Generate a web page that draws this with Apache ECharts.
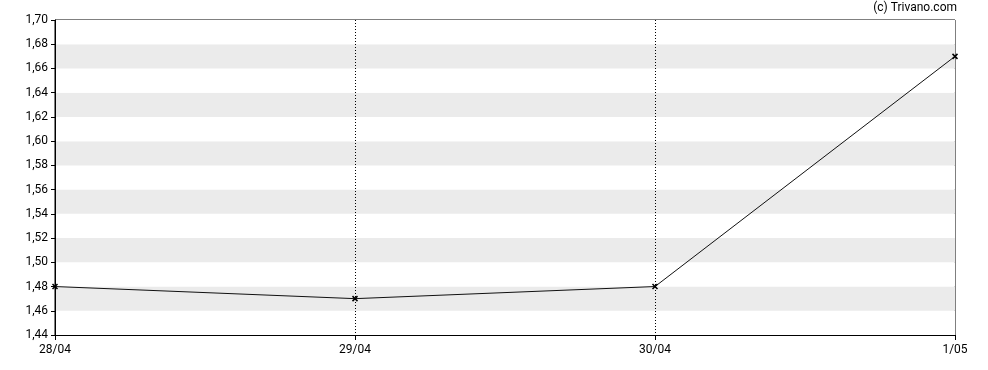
<!DOCTYPE html>
<html>
<head>
<meta charset="utf-8">
<script src="https://cdn.jsdelivr.net/npm/echarts@6/dist/echarts.min.js"></script>
<style>html,body{margin:0;padding:0;background:#fff}#c{width:988px;height:370px}</style>
</head>
<body>
<div id="c"></div>
<script>
const categories = ['28/04', '29/04', '30/04', '1/05'];
const prices = [1.48, 1.47, 1.48, 1.67];
const yMin = 1.44, yMax = 1.70, yStep = 0.02;
const credit = '(c) Trivano.com';

const chart = echarts.init(document.getElementById('c'), null, {renderer: 'canvas'});
const font = 'Roboto';
chart.setOption({
  animation: false,
  backgroundColor: '#ffffff',
  graphic: [{
    type: 'text', right: 31, top: 2, z: 100,
    style: {text: credit, font: '12px Roboto', fill: '#000', textAlign: 'right'}
  }],
  grid: {left: 55, right: 33, top: 20, bottom: 35, show: true, borderColor: '#000', borderWidth: 1, backgroundColor: 'transparent'},
  xAxis: {
    type: 'category', data: categories, boundaryGap: false,
    axisLine: {lineStyle: {color: '#000', width: 1}},
    axisTick: {show: true, length: 5, lineStyle: {color: '#000'}},
    axisLabel: {color: '#000', fontFamily: font, fontSize: 12, margin: 9},
    splitLine: {show: true, interval: (i) => i > 0 && i < categories.length - 1,
      lineStyle: {type: [1, 2], color: '#000', width: 1}}
  },
  yAxis: {
    type: 'value', min: yMin, max: yMax, interval: yStep,
    axisLine: {show: true, lineStyle: {color: '#000', width: 1}},
    axisTick: {show: true, length: 4, lineStyle: {color: '#000'}},
    axisLabel: {color: '#000', fontFamily: font, fontSize: 12, margin: 7,
      formatter: v => v.toFixed(2).replace('.', ',')},
    splitLine: {show: false},
    splitArea: {show: true, areaStyle: {color: ['#ffffff', '#ebebeb']}}
  },
  series: [{
    type: 'line', data: prices,
    lineStyle: {color: '#111', width: 1},
    symbol: 'path://M0,0L10,10M10,0L0,10',
    symbolSize: 5,
    showSymbol: true,
    itemStyle: {color: 'transparent', borderColor: '#000', borderWidth: 1.5}
  }]
});
</script>
</body>
</html>
